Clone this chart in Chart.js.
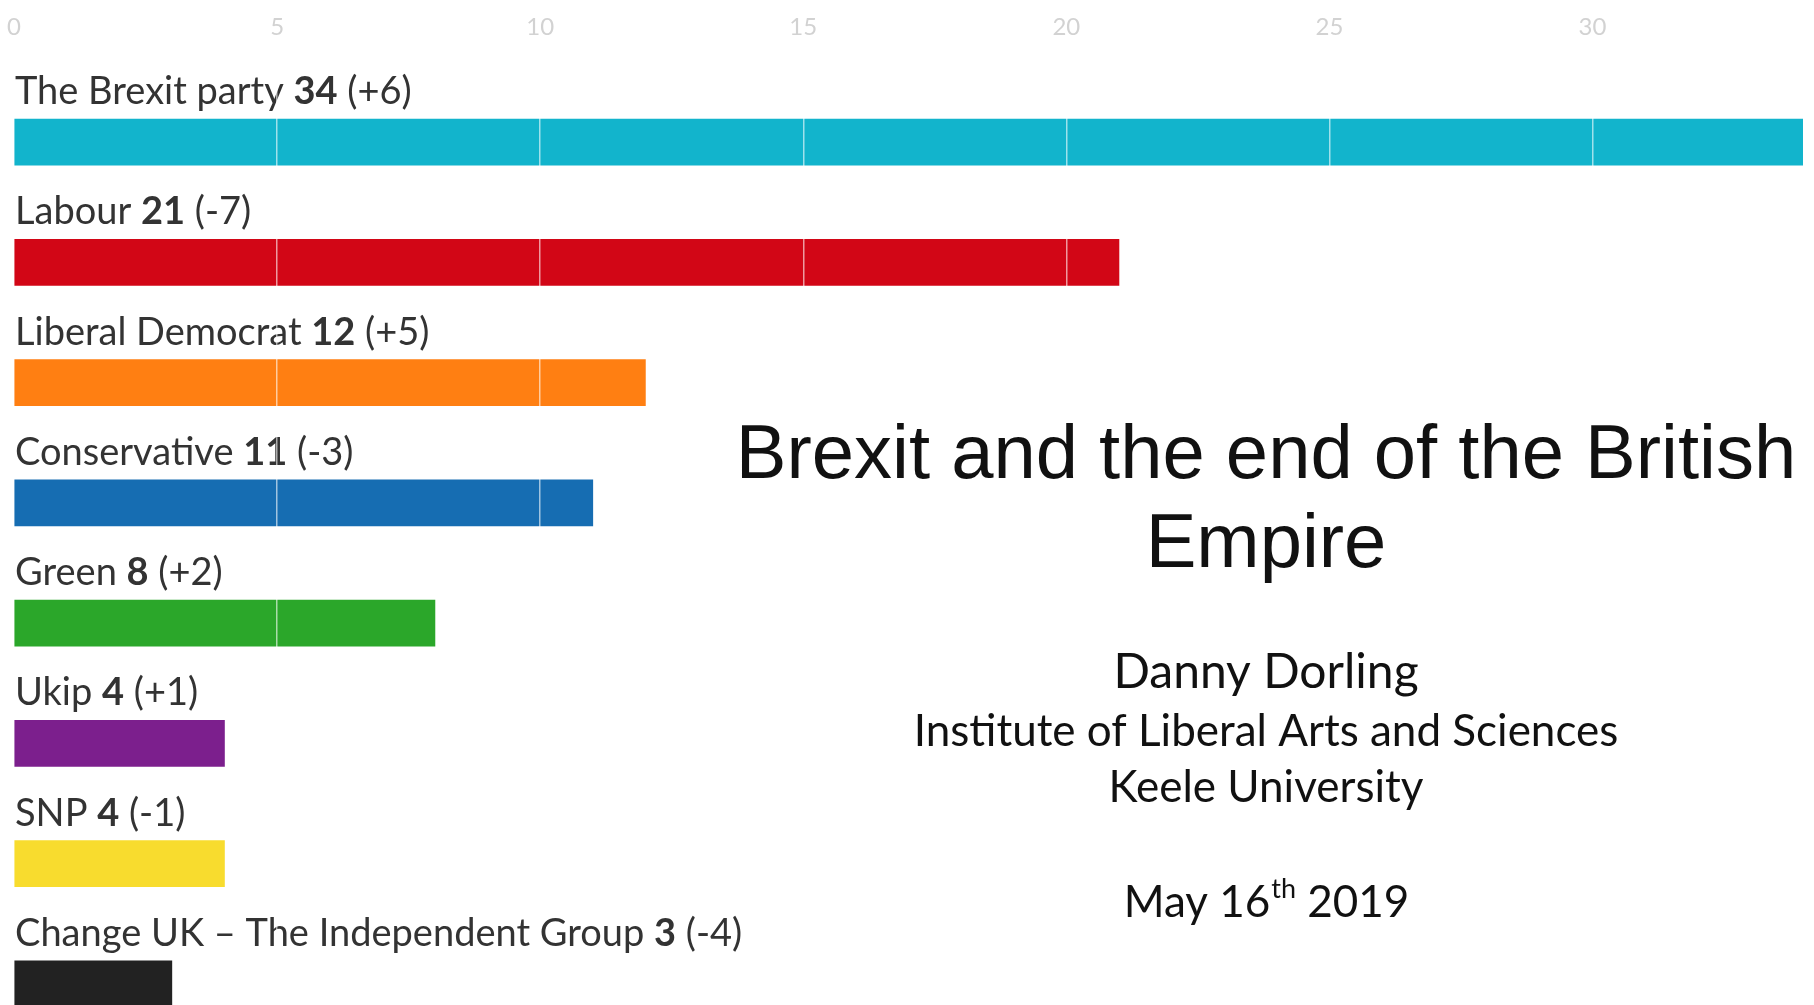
<!DOCTYPE html>
<html>
<head>
<meta charset="utf-8">
<title>European elections 2019 - seats</title>
<script src="https://cdn.jsdelivr.net/npm/chart.js@4/dist/chart.umd.min.js"></script>
<style>
html, body { margin: 0; padding: 0; background: #fff; overflow: hidden; }
#wrap { position: relative; width: 1814px; height: 1050px; }
</style>
</head>
<body>
<div id="wrap"><canvas id="seats-chart" width="1814" height="1050"></canvas></div>
<script>
// seats won, European Parliament election 2019 (GB)
const parties = [
    "The Brexit party",
    "Labour",
    "Liberal Democrat",
    "Conservative",
    "Green",
    "Ukip",
    "SNP",
    "Change UK – The Independent Group",
];
const seats = [34, 21, 12, 11, 8, 4, 4, 3];
const changes = ["+6", "-7", "+5", "-3", "+2", "+1", "-1", "-4"];
const barColours = [
    "#12b4cc",
    "#d20616",
    "#ff7f12",
    "#166db2",
    "#2ba72a",
    "#7c1f8d",
    "#f8dc2e",
    "#222222",
];
const xTicks = [0, 5, 10, 15, 20, 25, 30];

const titleLines = ["Brexit and the end of the British", "Empire"];
const author = "Danny Dorling";
const affiliation = ["Institute of Liberal Arts and Sciences", "Keele University"];
const dateParts = ["May 16", "th", " 2019"];

const centreX = 1266;

// party name, bold seat count, change - written above each bar
const barLabels = {
    id: "barLabels",
    afterDatasetsDraw(chart) {
        const ctx = chart.ctx;
        const meta = chart.getDatasetMeta(0);
        ctx.save();
        ctx.textBaseline = "alphabetic";
        ctx.fillStyle = "#333";
        meta.data.forEach((bar, i) => {
            const y = bar.y - bar.height / 2 - 15;
            let x = chart.chartArea.left + 1;
            const parts = [
                [parties[i] + " ", "normal"],
                [String(seats[i]), "bold"],
                [" (" + changes[i] + ")", "normal"],
            ];
            parts.forEach(([text, weight]) => {
                ctx.font = weight + " 38px Lato";
                ctx.fillText(text, x, y);
                x += ctx.measureText(text).width;
            });
        });
        ctx.restore();
    },
};

// slide title on the right
const slideText = {
    id: "slideText",
    afterDraw(chart) {
        const ctx = chart.ctx;
        ctx.save();
        ctx.fillStyle = "#111";
        ctx.textAlign = "center";
        ctx.textBaseline = "alphabetic";

        ctx.font = "76px 'Liberation Sans'";
        ctx.fillText(titleLines[0], centreX, 478);
        ctx.fillText(titleLines[1], centreX, 567);

        ctx.font = "48px Lato";
        ctx.fillText(author, centreX, 688);
        ctx.font = "44px Lato";
        ctx.fillText(affiliation[0], centreX, 746);
        ctx.fillText(affiliation[1], centreX, 802);

        // date with superscript
        ctx.textAlign = "left";
        ctx.font = "44px Lato";
        const w1 = ctx.measureText(dateParts[0]).width;
        const w3 = ctx.measureText(dateParts[2]).width;
        ctx.font = "27px Lato";
        const w2 = ctx.measureText(dateParts[1]).width;
        let x = centreX - (w1 + w2 + w3) / 2;
        ctx.font = "44px Lato";
        ctx.fillText(dateParts[0], x, 917);
        x += w1;
        ctx.font = "27px Lato";
        ctx.fillText(dateParts[1], x + 1, 898);
        x += w2 + 1;
        ctx.font = "44px Lato";
        ctx.fillText(dateParts[2], x, 917);
        ctx.restore();
    },
};

const ctx = document.getElementById("seats-chart").getContext("2d");

const seatsChart = new Chart(ctx, {
    type: "bar",
    data: {
        labels: parties,
        datasets: [
            {
                label: "Seats",
                data: seats,
                backgroundColor: barColours,
                borderWidth: 0,
                barThickness: 46,
            },
        ],
    },
    options: {
        indexAxis: "y",
        responsive: false,
        animation: false,
        devicePixelRatio: 1,
        layout: {
            padding: { left: 14, right: 11, top: 0, bottom: 6 },
        },
        plugins: {
            legend: { display: false },
            tooltip: { enabled: false },
        },
        scales: {
            x: {
                position: "top",
                min: 0,
                max: 34,
                afterBuildTicks: (scale) => {
                    scale.ticks = xTicks.map((v) => ({ value: v }));
                },
                afterFit: (scale) => {
                    scale.height = 82;
                    scale.paddingLeft = 0;
                    scale.paddingRight = 0;
                },
                grid: {
                    z: 1,
                    drawTicks: false,
                    lineWidth: 1.5,
                    color: (c) => (c.tick && c.tick.value === 0 ? "rgba(0,0,0,0)" : "rgba(255,255,255,0.6)"),
                },
                border: { display: false },
                ticks: {
                    padding: 40,
                    color: "#d2d2d2",
                    font: { family: "Lato", size: 24 },
                },
            },
            y: {
                display: false,
            },
        },
    },
    plugins: [barLabels, slideText],
});
</script>
</body>
</html>
